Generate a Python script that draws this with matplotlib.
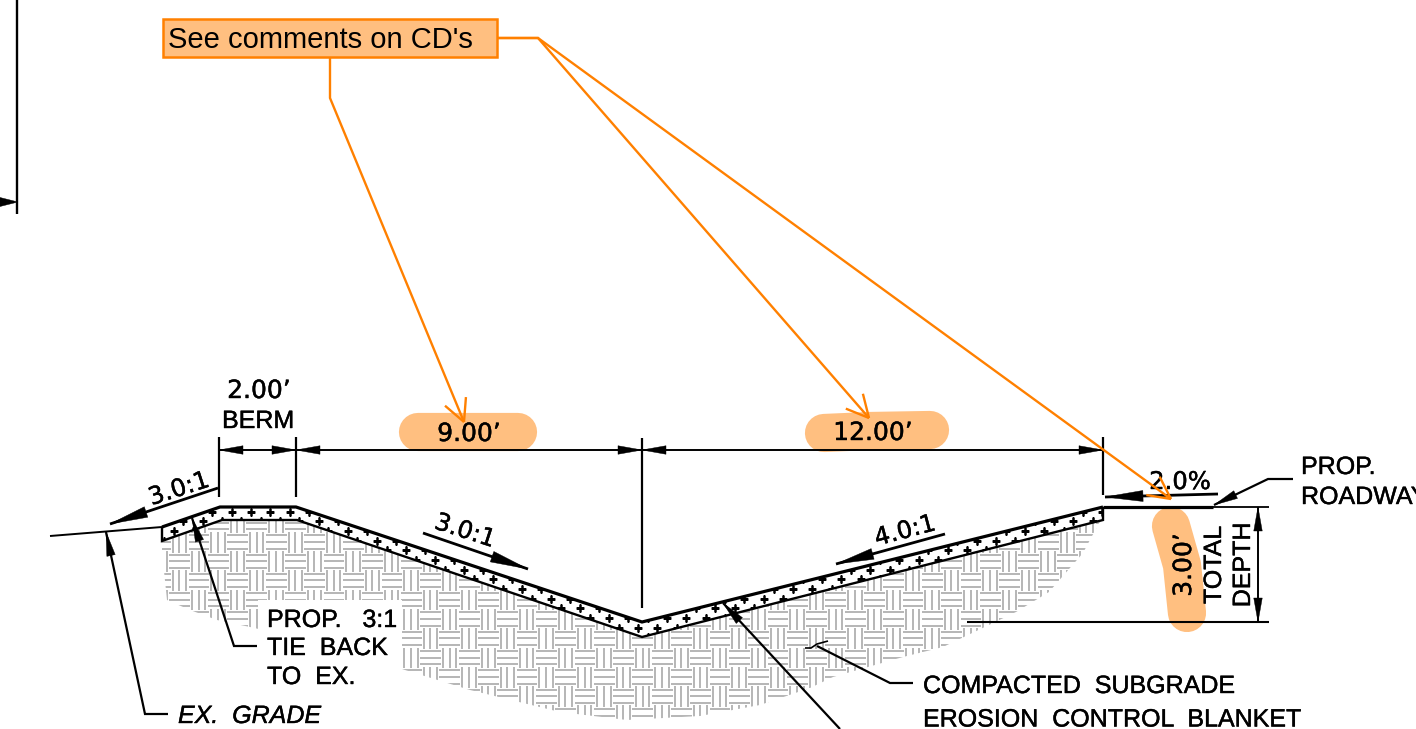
import numpy as np
import matplotlib
matplotlib.use("Agg")
import matplotlib.pyplot as plt
import matplotlib.patheffects as pe
from matplotlib.collections import LineCollection
from matplotlib.patches import Polygon, Rectangle

plt.rcParams["font.family"] = ["Liberation Sans", "DejaVu Sans"]

ORANGE = "#ff8000"
PEACH = "#ffbf80"
GREY = "#adadad"

# ── drawing geometry, all in picture pixels ──────────────────────────
blanket_top = [(162, 527), (220, 507), (296, 507), (642, 622), (1103, 507)]
blanket_bot = [(1103, 507), (1103, 520), (642, 637), (297, 520), (222, 520), (162, 541), (162, 527)]
ex_grade = [(50, 536), (162, 527)]
subgrade = [(162, 541), (222, 520), (297, 520), (642, 637), (1103, 520), (1099, 523), (1083, 553),
            (1049, 592), (1016, 612), (943, 647), (903, 657), (833, 677), (810, 688), (760, 705),
            (700, 716), (627, 720), (560, 712), (470, 690), (405, 670), (340, 648), (250, 627),
            (217, 620), (190, 610), (167, 600), (162, 552)]
knockout = (258, 600, 144, 92)

dim_y = 450
dim_ticks = [219, 296, 642, 1103]
ext_lines = [(219, 437, 497), (296, 437, 497), (642, 438, 608), (1103, 437, 495)]

# slope arrows: tail, tip, label, label centre, rotation
slope_arrows = [((218, 488), (110, 524), "3.0:1", (179, 489), 18),
                ((423, 533), (528, 569), "3.0:1", (465, 531), -18),
                ((945, 534), (836, 564), "4.0:1", (905, 531), 15),
                ((1218, 494), (1105, 497), "2.0%", (1180, 482), 0)]

# leaders: points from the tail to the arrow tip
leaders = [[(168, 714), (145, 714), (106, 532)],
           [(257, 646), (234, 646), (192, 518)],
           [(1293, 479), (1268, 479), (1214, 505)],
           [(840, 729), (723, 603)]]
compacted_leader = [(913, 683), (890, 683), (817, 646)]
compacted_tick = [(805, 648), (811, 648), (817, 644), (828, 641)]

dim_labels = [(259, 389, "2.00\u2019", 0), (469, 432, "9.00\u2019", 0), (873, 431, "12.00\u2019", 0),
              (1182, 565, "3.00\u2019", 90)]
word_labels = [(258, 419, "BERM", 0), (1212, 565, "TOTAL", 90), (1241, 565, "DEPTH", 90)]
left_labels = [(267, 618, "PROP.   3:1"), (267, 646, "TIE  BACK"), (267, 675, "TO  EX."),
               (1301, 465, "PROP."), (1301, 495, "ROADWAY"),
               (923, 684, "COMPACTED  SUBGRADE"), (923, 717.5, "EROSION  CONTROL  BLANKET")]

# markup layer
blobs = [[(418, 432), (518, 432)], [(824, 433), (870, 431), (930, 430)], [(1171, 526), (1182, 565), (1187, 613)]]
callout_box = (163, 19, 334, 38)
callouts = [[(330, 57), (330, 98), (464, 422)],
            [(497, 38), (538, 38), (869, 418)],
            [(497, 38), (538, 38), (1171, 499)]]

INK = [pe.withStroke(linewidth=0.3, foreground="k")]


def arrowhead(ax, tip, tail, length=24, width=8.5):
    tip = np.array(tip, float)
    d = np.array(tail, float) - tip
    d /= np.hypot(*d)
    n = np.array([-d[1], d[0]])
    base = tip + d * length
    ax.add_patch(Polygon([tip, base + n * width / 2, base - n * width / 2], closed=True,
                         fc="k", ec="k", lw=0.3, zorder=6))


def line(ax, pts, lw=1.6, color="k", z=5):
    xs, ys = zip(*pts)
    ax.plot(xs, ys, color=color, lw=lw, solid_capstyle="butt", solid_joinstyle="miter", zorder=z)


def label(ax, x, y, txt, rot=0, ha="center", family="Liberation Sans", size=18, **kw):
    # text sat ~2px high of the reference, nudge across the reading direction
    if rot == 90:
        x += 2
    else:
        y += 2
    ax.text(x, y, txt, fontsize=size, rotation=rot, rotation_mode="anchor", ha=ha, va="center",
            family=family, zorder=7, path_effects=INK, **kw)


fig = plt.figure(figsize=(14.16, 7.29), dpi=100)
ax = fig.add_axes([0, 0, 1, 1])
ax.set_xlim(0, 1416)
ax.set_ylim(729, 0)
ax.axis("off")

# ── basket weave hatch ───────────────────────────────────────────────
cell = 19.3
offs = [3.0, 9.65, 16.3]
segs = []
for i in range(-24, 30):
    for k in range(-8, 5):
        x0, y0 = 575 + i * cell, 648 + k * cell
        for o in offs:
            if (i + k) % 2 == 0:
                segs.append([(x0 - 0.5, y0 + o), (x0 + cell + 1, y0 + o)])
            else:
                segs.append([(x0 + o, y0 - 0.5), (x0 + o, y0 + cell + 1)])
clip = Polygon(subgrade, closed=True, fc="none", ec="none")
ax.add_patch(clip)
hatch = LineCollection(segs, colors=GREY, linewidths=1.25, zorder=1)
ax.add_collection(hatch)
hatch.set_clip_path(clip)
ax.add_patch(Rectangle(knockout[:2], knockout[2], knockout[3], fc="w", ec="none", zorder=1.5))

# ── blanket with its plus pattern ────────────────────────────────────
blanket = Polygon(blanket_top + blanket_bot[1:], closed=True, fc="w", ec="none", zorder=2)
ax.add_patch(blanket)
px, py = [], []
for j in range(-4, 16):
    for i in range(-8, 55):
        px.append(231.7 + 19.35 * i + 9.675 * (j % 2))
        py.append(511.7 + 9.67 * j)
plus, = ax.plot(px, py, "+", color="k", ms=6.2, mew=1.8, zorder=3)
plus.set_clip_path(blanket)
line(ax, blanket_top, lw=2.3)
line(ax, blanket_bot, lw=1.7)
line(ax, ex_grade, lw=1.4)
line(ax, [(1103, 507), (1213, 507)], lw=2.3)
line(ax, [(1213, 507), (1269, 507)], lw=1.3)
line(ax, [(967, 622), (1269, 622)], lw=1.5)

# ── markup blobs go under the ink ────────────────────────────────────
for b in blobs:
    xs, ys = zip(*b)
    ax.plot(xs, ys, color=PEACH, lw=27.5, solid_capstyle="round", solid_joinstyle="round", zorder=0.5)

# ── dimensions ───────────────────────────────────────────────────────
for x, y0, y1 in ext_lines:
    line(ax, [(x, y0), (x, y1)], lw=1.6)
line(ax, [(dim_ticks[0], dim_y), (dim_ticks[-1], dim_y)], lw=1.4)
for a, b in zip(dim_ticks[:-1], dim_ticks[1:]):
    arrowhead(ax, (a, dim_y), (b, dim_y))
    arrowhead(ax, (b, dim_y), (a, dim_y))
line(ax, [(1258, 507), (1258, 622)], lw=1.4)
arrowhead(ax, (1258, 507), (1258, 622))
arrowhead(ax, (1258, 622), (1258, 507))

for tail, tip, txt, pos, rot in slope_arrows:
    line(ax, [tail, tip], lw=2.0)
    arrowhead(ax, tip, tail, length=38, width=11)
    ax.text(pos[0], pos[1], txt, fontsize=17.5, rotation=rot, rotation_mode="anchor",
            ha="center", va="center", family="DejaVu Sans", zorder=7, path_effects=INK)

for pts in leaders:
    line(ax, pts, lw=1.6)
    arrowhead(ax, pts[-1], pts[-2])
line(ax, compacted_leader, lw=1.6)
line(ax, compacted_tick, lw=1.2)

for x, y, txt, rot in dim_labels:
    label(ax, x, y, txt, rot, family="DejaVu Sans", size=18)
for x, y, txt, rot in word_labels:
    label(ax, x, y, txt, rot)
for x, y, txt in left_labels:
    label(ax, x, y, txt, ha="left")
label(ax, 178, 714, "EX.  GRADE", ha="left", style="italic")

# stray piece of the next detail at the left edge
line(ax, [(17, 0), (17, 214)], lw=1.7)
arrowhead(ax, (18, 202), (0, 202), length=18, width=9)

# ── orange callout ───────────────────────────────────────────────────
ax.add_patch(Rectangle(callout_box[:2], callout_box[2], callout_box[3], fc=PEACH, ec=ORANGE, lw=1.8, zorder=8))
ax.text(168, 40, "See comments on CD's", fontsize=21, ha="left", va="center", zorder=9)
for pts in callouts:
    line(ax, pts, lw=1.7, color=ORANGE, z=9)
    tip = np.array(pts[-1], float)
    d = np.array(pts[-2], float) - tip
    ang = np.arctan2(d[1], d[0])
    for da in (-0.47, 0.47):
        end = tip + 25 * np.array([np.cos(ang + da), np.sin(ang + da)])
        line(ax, [end, tip], lw=1.7, color=ORANGE, z=9)

fig.savefig("out.png", dpi=100)
